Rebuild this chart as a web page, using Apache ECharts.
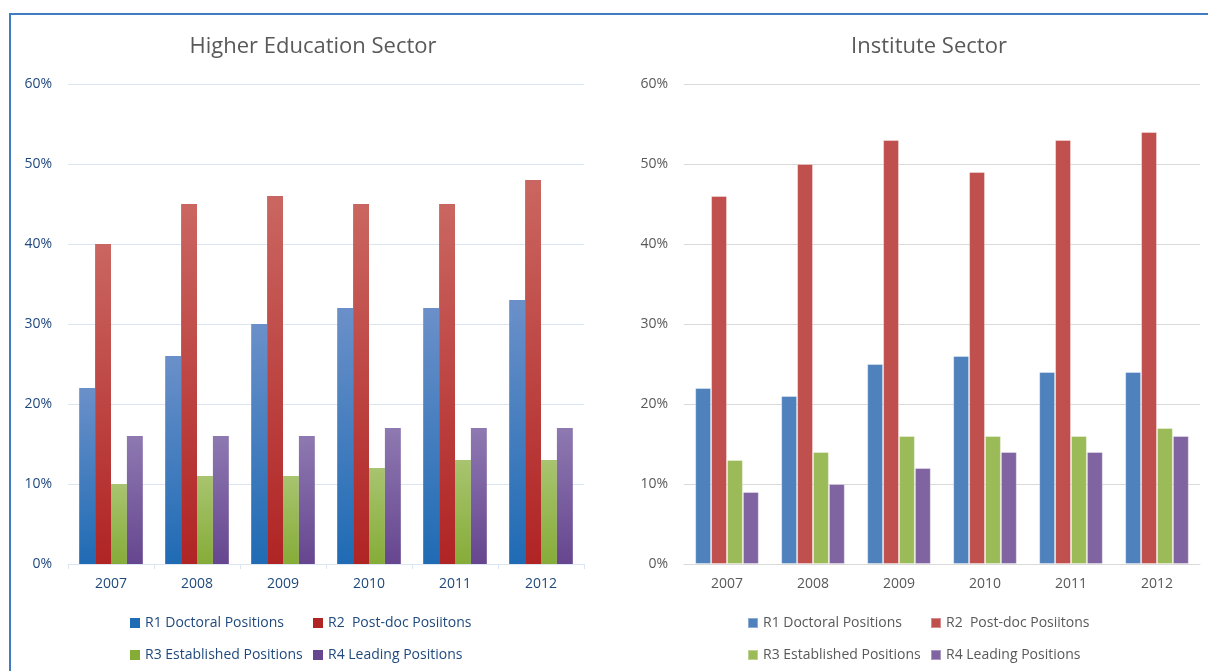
<!DOCTYPE html>
<html>
<head>
<meta charset="utf-8">
<script src="https://cdn.jsdelivr.net/npm/echarts@6/dist/echarts.min.js"></script>
<style>
  html, body { margin: 0; padding: 0; background: #fff; }
  #main { width: 1208px; height: 671px; }
</style>
</head>
<body>
<div id="main"></div>
<script>
// 数据
var years = ["2007", "2008", "2009", "2010", "2011", "2012"];
var seriesNames = ["R1 Doctoral Positions", "R2  Post-doc Posiitons", "R3 Established Positions", "R4 Leading Positions"];
var yTicks = [0, 10, 20, 30, 40, 50, 60];

// Higher Education Sector
var heR1 = [22, 26, 30, 32, 32, 33];
var heR2 = [40, 45, 46, 45, 45, 48];
var heR3 = [10, 11, 11, 12, 13, 13];
var heR4 = [16, 16, 16, 17, 17, 17];

// Institute Sector
var isR1 = [22, 21, 25, 26, 24, 24];
var isR2 = [46, 50, 53, 49, 53, 54];
var isR3 = [13, 14, 16, 16, 16, 17];
var isR4 = [9, 10, 12, 14, 14, 16];

var FONT = "Open Sans";
var flatColors = ["#4F81BD", "#C0504D", "#9BBB59", "#8064A2"];
var gradStops = [
  ["#6B90C9", "#1F6BB4"],
  ["#CA6661", "#B02424"],
  ["#A8C46F", "#86AC38"],
  ["#8E79B1", "#66468F"]
];

function grad(i) {
  return {
    type: "linear", x: 0, y: 0, x2: 0, y2: 1,
    colorStops: [
      { offset: 0, color: gradStops[i][0] },
      { offset: 1, color: gradStops[i][1] }
    ]
  };
}

function makeAxes(idx, txtColor, gridColor, showTick) {
  return {
    x: {
      type: "category",
      gridIndex: idx,
      data: years,
      axisLine: { lineStyle: { color: gridColor, width: 1 } },
      axisTick: { show: showTick, length: 5, lineStyle: { color: gridColor } },
      axisLabel: { color: txtColor, fontFamily: FONT, fontSize: 14, margin: 13 }
    },
    y: {
      type: "value",
      gridIndex: idx,
      min: yTicks[0],
      max: yTicks[yTicks.length - 1],
      interval: 10,
      axisLine: { show: false },
      axisTick: { show: false },
      splitLine: { lineStyle: { color: gridColor, width: 1 } },
      axisLabel: { color: txtColor, fontFamily: FONT, fontSize: 14, margin: 16, formatter: "{value}%" }
    }
  };
}

var leftAxes = makeAxes(0, "#1F497D", "#DCE6F2", true);
var rightAxes = makeAxes(1, "#595959", "#D9D9D9", false);

var heData = [heR1, heR2, heR3, heR4];
var isData = [isR1, isR2, isR3, isR4];

var series = [];
heData.forEach(function (d, i) {
  series.push({
    name: seriesNames[i], type: "bar", xAxisIndex: 0, yAxisIndex: 0,
    data: d, barGap: "0%", barCategoryGap: "26%",
    itemStyle: { color: grad(i) }
  });
});
isData.forEach(function (d, i) {
  series.push({
    name: seriesNames[i] + " ", type: "bar", xAxisIndex: 1, yAxisIndex: 1,
    data: d, barGap: "0%", barCategoryGap: "26%",
    itemStyle: { color: flatColors[i], borderColor: "rgba(255,255,255,0.35)", borderWidth: 1 }
  });
});

// 图例：每项单独定位
var legendPos = [[130, 616], [313, 616], [130, 648], [313, 648]];
var legends = [];
seriesNames.forEach(function (n, i) {
  legends.push({
    data: [{ name: n, itemStyle: { color: gradStops[i][1] } }],
    left: legendPos[i][0], top: legendPos[i][1], padding: 0,
    itemWidth: 10, itemHeight: 10, icon: "rect", selectedMode: false,
    textStyle: { color: "#1F497D", fontFamily: FONT, fontSize: 14 }
  });
  legends.push({
    data: [{ name: n + " ", itemStyle: { color: flatColors[i] } }],
    left: legendPos[i][0] + 617, top: legendPos[i][1], padding: 0,
    itemWidth: 10, itemHeight: 10, icon: "rect", selectedMode: false,
    formatter: function (s) { return s.trim(); },
    textStyle: { color: "#595959", fontFamily: FONT, fontSize: 14 }
  });
});

var chart = echarts.init(document.getElementById("main"), null, { renderer: "canvas" });
chart.setOption({
  animation: false,
  title: [
    { text: "Higher Education Sector", left: 308, top: 31, textAlign: "center",
      textStyle: { color: "#595959", fontFamily: FONT, fontSize: 22, fontWeight: "normal" } },
    { text: "Institute Sector", left: 924, top: 31, textAlign: "center",
      textStyle: { color: "#595959", fontFamily: FONT, fontSize: 22, fontWeight: "normal" } }
  ],
  legend: legends,
  grid: [
    { left: 68, width: 516, top: 84, height: 480 },
    { left: 684, width: 516, top: 84, height: 480 }
  ],
  xAxis: [leftAxes.x, rightAxes.x],
  yAxis: [leftAxes.y, rightAxes.y],
  series: series,
  graphic: [{
    type: "rect", silent: true, z: 100,
    shape: { x: 10, y: 14, width: 1300, height: 800 },
    style: { fill: null, stroke: "#3F7CC0", lineWidth: 2 }
  }]
});
</script>
</body>
</html>
